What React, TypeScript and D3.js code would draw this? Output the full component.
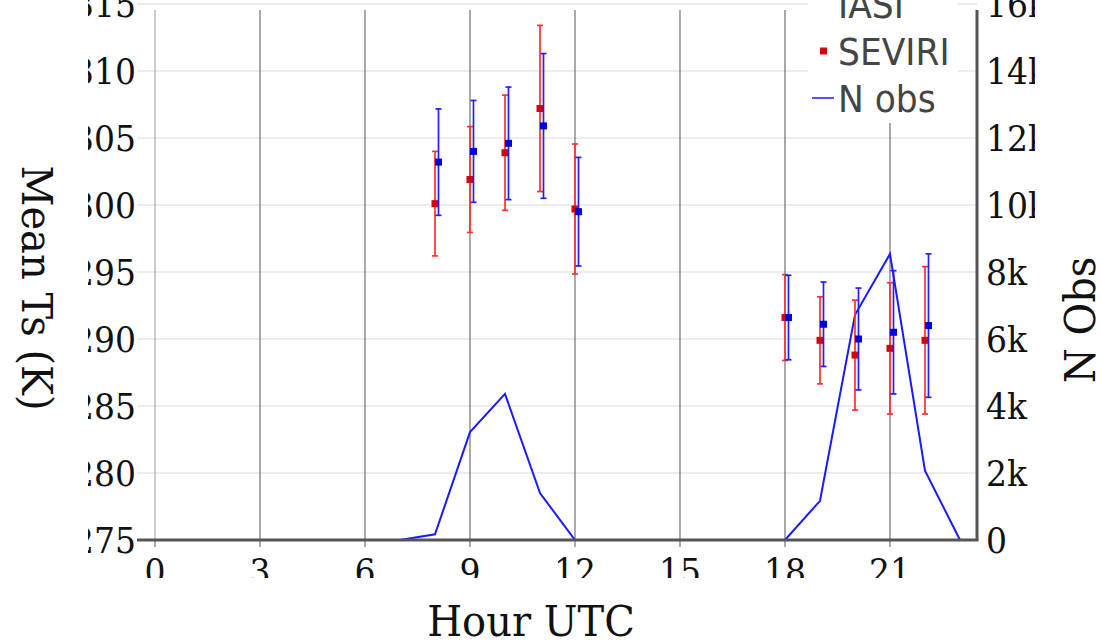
import React from "react";
import * as d3 from "d3";

const hourTicks = [0, 3, 6, 9, 12, 15, 18, 21];
const tempTicks = [275, 280, 285, 290, 295, 300, 305, 310, 315];
const obsTicks = [0, 2000, 4000, 6000, 8000, 10000, 12000, 14000, 16000];

const seviriHours = [8, 9, 10, 11, 12, 18, 19, 20, 21, 22];
const seviriMean = [300.1, 301.9, 303.9, 307.2, 299.7, 291.6, 289.9, 288.8, 289.3, 289.9];
const seviriErr = [3.9, 3.95, 4.3, 6.2, 4.85, 3.2, 3.25, 4.1, 4.9, 5.5];

const iasiHours = [8, 9, 10, 11, 12, 18, 19, 20, 21, 22];
const iasiMean = [303.2, 304.0, 304.6, 305.9, 299.5, 291.6, 291.1, 290.0, 290.5, 291.0];
const iasiErr = [3.97, 3.8, 4.2, 5.4, 4.05, 3.15, 3.15, 3.8, 4.6, 5.35];

const obsHours = d3.range(0, 24);
const nObs = [0, 0, 0, 0, 0, 0, 0, 0, 170, 3220, 4360, 1400, 0, 0, 0, 0, 0, 0, 0, 1170, 6720, 8540, 2070, 0];

const legendLabels = ["IASI", "SEVIRI", "N obs"];

const W = 1101;
const H = 643;
const L = 155, R = 977, T = 10, B = 540;

export default function App() {
  const x = d3.scaleLinear().domain([0, 23.486]).range([L, R]);
  const y = d3.scaleLinear().domain([275, 314.55]).range([B, T]);
  const y2 = d3.scaleLinear().domain([0, 15820]).range([B, T]);
  const line = d3.line<number>().x((_, i) => x(obsHours[i])).y((d) => y2(d));
  const serif = "'DejaVu Serif', serif";
  const sans = "'DejaVu Sans', sans-serif";
  const iasiOffset = 0.1;
  const stretch = 1.08;

  const errBars = (hours: number[], mean: number[], err: number[], off: number, barColor: string, markColor: string, key: string) =>
    hours.map((h, i) => {
      const cx = x(h + off);
      const y0 = y(mean[i] - err[i]);
      const y1 = y(mean[i] + err[i]);
      return (
        <g key={key + i}>
          <line x1={cx} x2={cx} y1={y0} y2={y1} stroke={barColor} strokeWidth={1.7} />
          <line x1={cx - 3} x2={cx + 3} y1={y0} y2={y0} stroke={barColor} strokeWidth={1.7} />
          <line x1={cx - 3} x2={cx + 3} y1={y1} y2={y1} stroke={barColor} strokeWidth={1.7} />
          <rect x={cx - 3.5} y={y(mean[i]) - 3.5} width={7} height={7} fill={markColor} />
        </g>
      );
    });

  const stxt = (key: string, tx: number, ty: number, content: string, anchor: string, size: number, rot = 0, dy = "0.36em") => (
    <text
      key={key}
      transform={`translate(${tx},${ty}) rotate(${rot}) scale(1,${stretch})`}
      dy={dy}
      textAnchor={anchor}
      fontFamily={serif}
      fontSize={size}
      fill="#111"
    >
      {content}
    </text>
  );

  return (
    <svg width={W} height={H} style={{ position: "absolute", left: 0, top: 0, display: "block", background: "#fff" }}>
      <defs>
        <clipPath id="plotClip"><rect x={L} y={T} width={R - L} height={B - T + 1} /></clipPath>
        <clipPath id="leftClip"><rect x={88} y={-20} width={60} height={H + 40} /></clipPath>
        <clipPath id="rightClip"><rect x={980} y={-20} width={55} height={H + 40} /></clipPath>
        <clipPath id="bottomClip"><rect x={100} y={545} width={900} height={33} /></clipPath>
        <clipPath id="legendClip"><rect x={800} y={T} width={170} height={130} /></clipPath>
      </defs>

      {/* horizontal gridlines */}
      {tempTicks.map((t) => (
        <line key={"hg" + t} x1={137} x2={R} y1={y(t)} y2={y(t)} stroke="#ececec" strokeWidth={2} />
      ))}
      {/* vertical gridlines */}
      {hourTicks.map((h) => (
        <line key={"vg" + h} x1={x(h)} x2={x(h)} y1={T} y2={B} stroke={h === 0 ? "#9a9a9a" : "#555"} strokeWidth={1} />
      ))}
      {/* bottom ticks */}
      {hourTicks.map((h) => (
        <line key={"bt" + h} x1={x(h)} x2={x(h)} y1={B} y2={B + 7} stroke="#555" strokeWidth={1} />
      ))}

      {/* N obs line and error bars */}
      <g clipPath="url(#plotClip)">
        <path d={line(nObs) || ""} fill="none" stroke="#1a1aff" strokeWidth={2} />
        {errBars(seviriHours, seviriMean, seviriErr, 0, "#ff3030", "#cc0a0a", "s")}
        {errBars(iasiHours, iasiMean, iasiErr, iasiOffset, "#2020ff", "#0000e0", "i")}
      </g>

      {/* axes */}
      <line x1={137} x2={R + 1.5} y1={B} y2={B} stroke="#555" strokeWidth={3} />
      <line x1={R} x2={R} y1={T} y2={B} stroke="#555" strokeWidth={3} />

      {/* left tick labels */}
      <g clipPath="url(#leftClip)">
        {tempTicks.map((t) => stxt("lt" + t, 136, y(t), String(t), "end", 33))}
      </g>
      {/* right tick labels */}
      <g clipPath="url(#rightClip)">
        {obsTicks.map((t) => stxt("rt" + t, 986, y2(t), t === 0 ? "0" : t / 1000 + "k", "start", 33))}
      </g>
      {/* bottom tick labels */}
      <g clipPath="url(#bottomClip)">
        {hourTicks.map((h) => stxt("xt" + h, x(h), 584, String(h), "middle", 33, 0, "0"))}
      </g>

      {/* axis titles */}
      {stxt("tx", 531, 636, "Hour UTC", "middle", 40, 0, "0")}
      {stxt("ty", 22, 288, "Mean Ts (K)", "middle", 40, 90, "0")}
      {stxt("ty2", 1095, 320, "N Obs", "middle", 40, -90, "0")}

      {/* legend */}
      <g>
        <rect x={808} y={-10} width={150} height={133} fill="#fff" />
        {legendLabels.map((lab, i) => {
          const base = 18 + i * 47;
          const cy = base - 14;
          return (
            <g key={lab}>
              <g clipPath="url(#legendClip)">
                {i === 0 && <rect x={820} y={cy - 3.5} width={7} height={7} fill="#0000e0" />}
                {i === 1 && <rect x={820} y={cy - 3.5} width={7} height={7} fill="#cc0a0a" />}
                {i === 2 && <line x1={812} x2={834} y1={cy} y2={cy} stroke="#1a1aff" strokeWidth={1.5} />}
              </g>
              <text transform={`translate(838,${base}) scale(1,1.09)`} fontFamily={sans} fontSize={34.5} fill="#444">{lab}</text>
            </g>
          );
        })}
      </g>
    </svg>
  );
}
